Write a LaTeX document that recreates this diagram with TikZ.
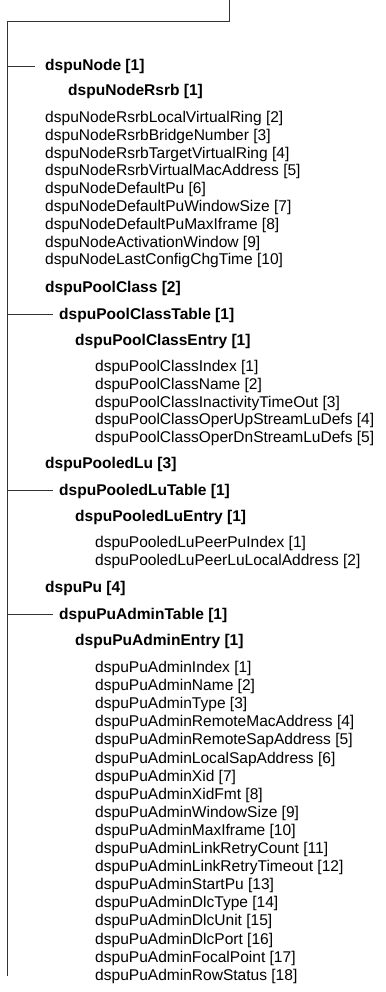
\documentclass[tikz,border=0pt]{standalone}
\usepackage{fontspec}
\setmainfont{Liberation Sans}
\begin{document}
\begin{tikzpicture}[x=1bp,y=-1bp,
  hd/.style={anchor=base west, inner sep=0pt, font=\fontsize{15.6}{18}\selectfont\bfseries},
  it/.style={anchor=base west, inner sep=0pt, font=\fontsize{15.6}{18}\selectfont},
  ln/.style={line width=1bp, draw=black!80}]
\useasboundingbox (0,0) rectangle (385,992);
% trunk
\coordinate (topEnd) at (229,0);
\coordinate (topCorner) at (229,21);
\coordinate (trunkTop) at (7.5,21);
\coordinate (trunkBot) at (7.5,976);
\draw[ln] (topEnd) -- (topCorner) -- (trunkTop) -- (trunkBot);

% dspuNode
\node[hd] (node) at (45,70.5) {dspuNode [1]};
\node[hd] (rsrb) at (68,95.5) {dspuNodeRsrb [1]};
\foreach \t [count=\i from 0] in {%
  dspuNodeRsrbLocalVirtualRing [2],
  dspuNodeRsrbBridgeNumber [3],
  dspuNodeRsrbTargetVirtualRing [4],
  dspuNodeRsrbVirtualMacAddress [5],
  dspuNodeDefaultPu [6],
  dspuNodeDefaultPuWindowSize [7],
  dspuNodeDefaultPuMaxIframe [8],
  dspuNodeActivationWindow [9],
  dspuNodeLastConfigChgTime [10]}
  \node[it] (na\i) at (45,122.5+17.8*\i) {\t};

% dspuPoolClass
\node[hd] (pc) at (45,292.5) {dspuPoolClass [2]};
\node[hd] (pct) at (59,319) {dspuPoolClassTable [1]};
\node[hd] (pce) at (75,345.5) {dspuPoolClassEntry [1]};
\foreach \t [count=\i from 0] in {%
  dspuPoolClassIndex [1],
  dspuPoolClassName [2],
  dspuPoolClassInactivityTimeOut [3],
  dspuPoolClassOperUpStreamLuDefs [4],
  dspuPoolClassOperDnStreamLuDefs [5]}
  \node[it] (pa\i) at (95,371.5+17.8*\i) {\t};

% dspuPooledLu
\node[hd] (pl) at (45,468.5) {dspuPooledLu [3]};
\node[hd] (plt) at (59,495) {dspuPooledLuTable [1]};
\node[hd] (ple) at (75,521) {dspuPooledLuEntry [1]};
\node[it] (la0) at (95,547.5) {dspuPooledLuPeerPuIndex [1]};
\node[it] (la1) at (95,565.3) {dspuPooledLuPeerLuLocalAddress [2]};

% dspuPu
\node[hd] (pu) at (45,592.5) {dspuPu [4]};
\node[hd] (pat) at (59,619) {dspuPuAdminTable [1]};
\node[hd] (pae) at (75,645.5) {dspuPuAdminEntry [1]};
\foreach \t [count=\i from 0] in {%
  dspuPuAdminIndex [1],
  dspuPuAdminName [2],
  dspuPuAdminType [3],
  dspuPuAdminRemoteMacAddress [4],
  dspuPuAdminRemoteSapAddress [5],
  dspuPuAdminLocalSapAddress [6],
  dspuPuAdminXid [7],
  dspuPuAdminXidFmt [8],
  dspuPuAdminWindowSize [9],
  dspuPuAdminMaxIframe [10],
  dspuPuAdminLinkRetryCount [11],
  dspuPuAdminLinkRetryTimeout [12],
  dspuPuAdminStartPu [13],
  dspuPuAdminDlcType [14],
  dspuPuAdminDlcUnit [15],
  dspuPuAdminDlcPort [16],
  dspuPuAdminFocalPoint [17],
  dspuPuAdminRowStatus [18]}
  \node[it] (ua\i) at (95,672.5+18.1*\i) {\t};

% stubs from trunk
\draw[ln] (trunkTop |- node.west) -- ([xshift=-10bp]node.west);
\draw[ln] (trunkTop |- pct.west) -- ([xshift=-6bp]pct.west);
\draw[ln] (trunkTop |- plt.west) -- ([xshift=-6bp]plt.west);
\draw[ln] (trunkTop |- pat.west) -- ([xshift=-6bp]pat.west);
\end{tikzpicture}
\end{document}
